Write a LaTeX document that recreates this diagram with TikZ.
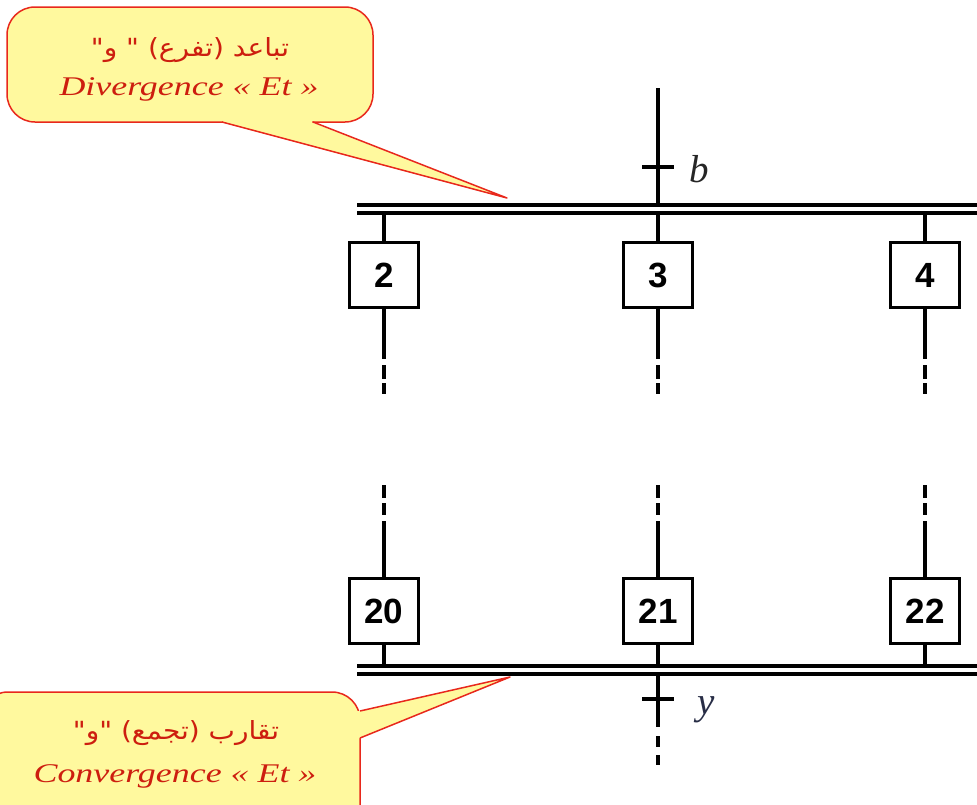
\documentclass[tikz,border=0pt]{standalone}
\usepackage{graphicx}
\usepackage{fontspec}
\setmainfont{Liberation Serif}
\newfontfamily\arabicfont[Script=Arabic]{DejaVu Sans}
\newfontfamily\boxfont{Liberation Sans}
\TeXXeTstate=1
\definecolor{callfill}{RGB}{255,249,158}
\definecolor{callline}{RGB}{232,40,28}
\definecolor{calltext}{RGB}{205,30,15}
\definecolor{ylabel}{RGB}{40,45,70}
\begin{document}
\begin{tikzpicture}[x=1pt,y=-1pt,
  wire/.style={line width=3.2pt},
  stepbox/.style={draw, line width=3.2pt, minimum width=69pt, minimum height=65pt, inner sep=0pt,
    font=\boxfont\bfseries\fontsize{35}{35}\selectfont},
  callout/.style={fill=callfill, draw=callline, line width=1.5pt},
  calltxt/.style={text=calltext, inner sep=0pt, anchor=base},
  varlabel/.style={font=\itshape\fontsize{39}{39}\selectfont, inner sep=0pt}]
\useasboundingbox (0,0) rectangle (977,804);

% ---------- callouts ----------
\path[callout] (7,7) [rounded corners=28pt] rectangle (373,122);
\fill[callfill] (223,119) -- (223,122.5) -- (507,198) -- (312,122.5) -- (312,119) -- cycle;
\draw[callline, line width=1.5pt, line join=round] (222,122) -- (507,198) -- (313,122);
\node[calltxt] (arTop) at (190,56) {\scalebox{1.12}[1]{\arabicfont\fontsize{25}{25}\selectfont\beginR تباعد (تفرع) " و"\endR}};
\node[calltxt] (laTop) at (189,95) {\scalebox{1.33}[1]{\itshape\fontsize{27}{27}\selectfont Divergence « Et »}};

\path[callout] (-20,692) [rounded corners=28pt] rectangle (360,840);
\fill[callfill] (357,711) -- (360.5,711) -- (510,677) -- (360.5,738) -- (357,738) -- cycle;
\draw[callline, line width=1.5pt, line join=round] (360,711) -- (510,677) -- (360,738);
\node[calltxt] (arBot) at (176,739) {\scalebox{1.12}[1]{\arabicfont\fontsize{25}{25}\selectfont\beginR تقارب (تجمع) "و"\endR}};
\node[calltxt] (laBot) at (175,782) {\scalebox{1.33}[1]{\itshape\fontsize{27}{27}\selectfont Convergence « Et »}};

% ---------- bars ----------
\coordinate (tbA) at (357,205); \coordinate (tbAe) at (985,205);
\coordinate (tbB) at (357,213); \coordinate (tbBe) at (985,213);
\coordinate (bbA) at (357,666); \coordinate (bbAe) at (985,666);
\coordinate (bbB) at (357,674); \coordinate (bbBe) at (985,674);
\draw[wire] (tbA) -- (tbAe);
\draw[wire] (tbB) -- (tbBe);
\draw[wire] (bbA) -- (bbAe);
\draw[wire] (bbB) -- (bbBe);

% ---------- steps ----------
\node[stepbox] (s2) at (384,275) {2};
\node[stepbox] (s3) at (658,275) {3};
\node[stepbox] (s4) at (925,275) {4};
\node[stepbox] (s20) at (384,611) {20};
\node[stepbox] (s21) at (658,611) {21};
\node[stepbox] (s22) at (925,611) {22};

% ---------- input with transition b ----------
\coordinate (inTop) at (658,88);
\draw[wire] (inTop) -- (inTop |- tbA);
\coordinate (tickb) at (658,167);
\draw[wire] ([xshift=-16pt]tickb) -- ([xshift=16pt]tickb);
\node[varlabel, text=black!85] (lb) at (699,169) {b};

% ---------- branches ----------
\foreach \s in {s2,s3,s4}{
  \draw[wire] (\s.north) -- (\s.north |- tbB);
}
\coordinate (e2) at (384,395); \coordinate (e3) at (658,395); \coordinate (e4) at (925,395);
\draw[wire, dash pattern=on 50pt off 6pt on 14pt off 4pt on 11pt] (s2.south) -- (e2);
\draw[wire, dash pattern=on 50pt off 6pt on 14pt off 4pt on 11pt] (s3.south) -- (e3);
\draw[wire, dash pattern=on 50pt off 6pt on 14pt off 4pt on 11pt] (s4.south) -- (e4);

\coordinate (f20) at (384,485); \coordinate (f21) at (658,485); \coordinate (f22) at (925,485);
\draw[wire, dash pattern=on 56pt off 6pt on 12pt off 5pt on 13pt] (s20.north) -- (f20);
\draw[wire, dash pattern=on 56pt off 6pt on 12pt off 5pt on 13pt] (s21.north) -- (f21);
\draw[wire, dash pattern=on 56pt off 6pt on 12pt off 5pt on 13pt] (s22.north) -- (f22);

\foreach \s in {s20,s21,s22}{
  \draw[wire] (\s.south) -- (\s.south |- bbA);
}

% ---------- output with transition y ----------
\coordinate (outB) at (658,765);
\draw[wire, dash pattern=on 53pt off 9pt on 11pt off 8pt on 10pt] (outB |- bbB) -- (outB);
\coordinate (ticky) at (658,699);
\draw[wire] ([xshift=-16pt]ticky) -- ([xshift=16pt]ticky);
\node[varlabel, text=ylabel] (ly) at (706,710) {y};
\end{tikzpicture}
\end{document}
